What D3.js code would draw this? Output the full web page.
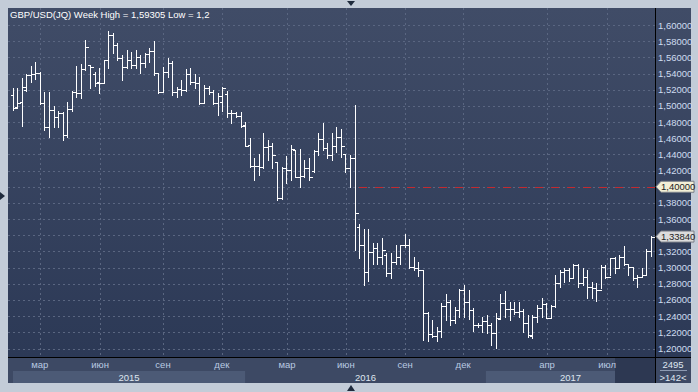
<!DOCTYPE html>
<html>
<head>
<meta charset="utf-8">
<script src="https://cdn.jsdelivr.net/npm/d3@7"></script>
<style>
  body { margin: 0; background: #c3ccd8; }
  svg { display: block; font-family: "Liberation Sans", Arial, sans-serif; }
</style>
</head>
<body>
<div id="chart"></div>
<script>
// weekly GBP/USD bars, Jan 2015 - Sep 2017
const openP = [
  1.514,1.498,1.505,1.520,1.538,1.540,1.541,1.503,1.474,1.495,1.486,1.491,1.464,1.496,1.517,1.516,1.545,1.550,1.540,1.530,
  1.528,1.557,1.588,1.575,1.559,1.548,1.557,1.550,1.560,1.553,1.564,1.568,1.541,1.517,1.542,1.553,1.517,1.521,1.520,1.540,
  1.530,1.528,1.504,1.522,1.517,1.503,1.505,1.515,1.491,1.491,1.487,1.476,1.452,1.426,1.426,1.424,1.449,1.450,1.430,1.386,
  1.423,1.421,1.445,1.412,1.413,1.423,1.420,1.444,1.459,1.448,1.439,1.450,1.461,1.440,1.423,1.435,1.350,1.328,1.294,1.319,
  1.324,1.313,1.315,1.293,1.307,1.313,1.328,1.328,1.301,1.300,1.297,1.244,1.218,1.215,1.222,1.252,1.258,1.235,1.247,1.272,
  1.258,1.248,1.229,1.229,1.234,1.229,1.219,1.237,1.256,1.2485,1.2485,1.2448,1.246,1.231,1.216,1.2386,1.2498,1.2547,1.2374,1.2522,
  1.2807,1.2943,1.2968,1.2869,1.3030,1.2807,1.2881,1.2757,1.2745,1.2720,1.3005,1.2881,1.3116,1.2993,1.3129,1.3042,1.3005,1.2869,1.2881,1.2906,
  1.3203
];
const highP = [
  1.522,1.522,1.534,1.540,1.549,1.554,1.542,1.517,1.517,1.500,1.494,1.492,1.505,1.518,1.549,1.552,1.581,1.550,1.542,1.547,
  1.557,1.592,1.590,1.578,1.563,1.569,1.567,1.569,1.563,1.565,1.572,1.580,1.541,1.548,1.559,1.555,1.523,1.532,1.545,1.547,
  1.540,1.536,1.526,1.525,1.520,1.516,1.523,1.519,1.495,1.492,1.492,1.480,1.460,1.435,1.441,1.466,1.458,1.454,1.430,1.424,
  1.438,1.452,1.446,1.447,1.433,1.435,1.445,1.466,1.479,1.454,1.466,1.474,1.472,1.441,1.439,1.501,1.354,1.348,1.348,1.330,
  1.331,1.337,1.318,1.318,1.328,1.328,1.342,1.336,1.313,1.307,1.297,1.245,1.235,1.226,1.256,1.267,1.260,1.251,1.273,1.278,
  1.272,1.250,1.231,1.239,1.241,1.2312,1.2436,1.2671,1.2708,1.2572,1.2572,1.2572,1.2485,1.2411,1.2411,1.2535,1.2621,1.2559,1.2535,1.2906,
  1.2968,1.2993,1.2993,1.3042,1.3042,1.2993,1.2968,1.2819,1.2807,1.3030,1.3030,1.3116,1.3129,1.3153,1.3265,1.3042,1.3005,1.2906,1.2993,1.3228,
  1.3389
];
const lowP = [
  1.495,1.497,1.475,1.518,1.529,1.533,1.502,1.470,1.461,1.474,1.474,1.458,1.462,1.494,1.511,1.510,1.544,1.522,1.525,1.516,
  1.528,1.547,1.565,1.557,1.532,1.547,1.547,1.547,1.541,1.548,1.554,1.538,1.516,1.517,1.536,1.513,1.511,1.513,1.518,1.527,
  1.522,1.502,1.503,1.515,1.502,1.489,1.494,1.486,1.479,1.486,1.474,1.451,1.425,1.408,1.414,1.423,1.433,1.423,1.383,1.385,
  1.405,1.408,1.412,1.400,1.412,1.408,1.418,1.439,1.446,1.436,1.433,1.443,1.437,1.418,1.400,1.322,1.312,1.279,1.283,1.305,
  1.305,1.305,1.290,1.287,1.305,1.304,1.325,1.300,1.297,1.290,1.210,1.209,1.214,1.209,1.214,1.235,1.229,1.231,1.239,1.239,
  1.237,1.222,1.226,1.221,1.219,1.2040,1.2002,1.2374,1.2386,1.2349,1.2423,1.2386,1.2200,1.2139,1.2126,1.2324,1.2386,1.2374,1.2374,1.2510,
  1.2757,1.2819,1.2832,1.2869,1.2757,1.2782,1.2621,1.2621,1.2584,1.2745,1.2869,1.2906,1.2931,1.2993,1.3030,1.2906,1.2844,1.2757,1.2881,1.2906,
  1.3141
];
const closeP = [
  1.497,1.503,1.523,1.538,1.540,1.541,1.503,1.474,1.495,1.486,1.491,1.464,1.496,1.517,1.516,1.545,1.573,1.548,1.528,1.528,
  1.557,1.588,1.575,1.559,1.548,1.557,1.550,1.560,1.553,1.564,1.568,1.541,1.517,1.542,1.553,1.517,1.521,1.520,1.540,1.530,
  1.528,1.504,1.522,1.517,1.503,1.512,1.522,1.491,1.491,1.487,1.475,1.451,1.426,1.426,1.424,1.449,1.450,1.439,1.386,1.423,
  1.421,1.447,1.412,1.413,1.423,1.412,1.444,1.459,1.448,1.439,1.450,1.461,1.451,1.423,1.435,1.367,1.328,1.294,1.319,1.324,
  1.313,1.322,1.293,1.307,1.313,1.328,1.328,1.301,1.300,1.297,1.244,1.218,1.215,1.222,1.252,1.258,1.235,1.247,1.272,1.258,
  1.248,1.229,1.229,1.234,1.229,1.2188,1.2374,1.2559,1.2485,1.2485,1.2448,1.2460,1.2312,1.2163,1.2386,1.2498,1.2547,1.2374,1.2522,1.2807,
  1.2943,1.2968,1.2869,1.3030,1.2807,1.2881,1.2757,1.2745,1.2720,1.3005,1.2881,1.3116,1.2993,1.3129,1.3042,1.3005,1.2869,1.2881,1.2906,1.3203,
  1.3384
];

// axis labels
const priceTicks = [1.20,1.22,1.24,1.26,1.28,1.30,1.32,1.34,1.36,1.38,1.40,1.42,1.44,1.46,1.48,1.50,1.52,1.54,1.56,1.58,1.60];
const monthLabels = ["мар","июн","сен","дек","мар","июн","сен","дек","апр","июл"];
const monthBar = [6.0, 19.2, 33.0, 45.9, 60.2, 73.1, 86.1, 98.8, 117.2, 130.4]; // position in bar units
const yearLabels = ["2015","2016","2017"];
const yearFrom = [0.1, 51, 103.8];
const yearTo = [51, 103.8, 140.9];
const titleText = "GBP/USD(JQ) Week High = 1,59305 Low = 1,2";
const alertPrice = 1.40, alertFromBar = 76;
const lastPrice = 1.3384;
const footTop = "2495", footBottom = ">142<";

const W = 698, H = 392;
const plot = { left: 8, right: 655, top: 8, bottom: 357 };
const frameRight = 691, frameBottom = 383;

const svg = d3.select("#chart").append("svg")
  .attr("width", W).attr("height", H);

svg.append("rect").attr("width", W).attr("height", H).attr("fill", "#c3ccd8");

const defs = svg.append("defs");
const grad = defs.append("linearGradient").attr("id", "bg")
  .attr("x1", 0).attr("y1", 0).attr("x2", 0).attr("y2", 1);
grad.append("stop").attr("offset", "0%").attr("stop-color", "#404c67");
grad.append("stop").attr("offset", "100%").attr("stop-color", "#2c3956");

// scales
const x = d3.scaleLinear().domain([0, 140]).range([12.5, 651]);
const y = d3.scaleLinear().domain([1.20, 1.60]).range([348.5, 25]);

const ru = d3.formatLocale({ decimal: ",", thousands: " ", grouping: [3], currency: ["", ""] });
const fmt = ru.format(".5f");

// frame
svg.append("rect").attr("x", plot.left).attr("y", plot.top)
  .attr("width", frameRight - plot.left).attr("height", plot.bottom - plot.top)
  .attr("fill", "url(#bg)");
svg.append("rect").attr("x", plot.left).attr("y", plot.bottom)
  .attr("width", frameRight - plot.left).attr("height", frameBottom - plot.bottom)
  .attr("fill", "#3d4964");

// year bands
const bands = svg.append("g");
yearLabels.forEach((yl, i) => {
  const x0 = Math.max(plot.left + 5, x(yearFrom[i])), x1 = Math.min(plot.right, x(yearTo[i]));
  if (i % 2 === 0) {
    bands.append("rect").attr("x", x0).attr("y", 371).attr("width", x1 - x0).attr("height", 12)
      .attr("fill", "#4c5a76");
  }
  bands.append("text").attr("x", (x0 + x1) / 2).attr("y", 381)
    .attr("text-anchor", "middle").attr("fill", "#dfe6f0").attr("font-size", 9.5).text(yl);
});
// dark end box
svg.append("rect").attr("x", 615).attr("y", plot.bottom + 1)
  .attr("width", plot.right - 615).attr("height", frameBottom - plot.bottom - 1)
  .attr("fill", "#2d3852");

// grid
const grid = svg.append("g").attr("stroke", "#5a6681").attr("stroke-dasharray", "2,3")
  .attr("shape-rendering", "crispEdges");
grid.selectAll(".hg").data(priceTicks).join("line")
  .attr("x1", plot.left).attr("x2", plot.right)
  .attr("y1", d => Math.round(y(d)) + 0.5).attr("y2", d => Math.round(y(d)) + 0.5);
grid.selectAll(".vg").data(monthBar).join("line")
  .attr("y1", plot.top).attr("y2", plot.bottom)
  .attr("x1", d => Math.round(x(d)) + 0.5).attr("x2", d => Math.round(x(d)) + 0.5);

// month labels
svg.append("g").selectAll("text").data(monthLabels).join("text")
  .attr("x", (d, i) => x(monthBar[i])).attr("y", 368)
  .attr("text-anchor", "middle").attr("fill", "#b9c9e2").attr("font-size", 9.5)
  .text(d => d);

// alert line
svg.append("line")
  .attr("x1", x(alertFromBar)).attr("x2", plot.right)
  .attr("y1", Math.round(y(alertPrice)) + 0.5).attr("y2", Math.round(y(alertPrice)) + 0.5)
  .attr("stroke", "#c42a30").attr("stroke-width", 1.2).attr("stroke-dasharray", "8,8");

// OHLC bars
const bars = svg.append("g").attr("stroke", "#ffffff").attr("shape-rendering", "crispEdges");
const idx = d3.range(openP.length);
const bx = i => Math.round(x(i)) + 0.5;
bars.selectAll(".hl").data(idx).join("line")
  .attr("x1", bx).attr("x2", bx)
  .attr("y1", i => Math.round(y(highP[i]))).attr("y2", i => Math.round(y(lowP[i])) + 1);
bars.selectAll(".o").data(idx).join("line")
  .attr("x1", i => bx(i) - 3).attr("x2", bx)
  .attr("y1", i => Math.round(y(openP[i])) + 0.5).attr("y2", i => Math.round(y(openP[i])) + 0.5);
bars.selectAll(".c").data(idx).join("line")
  .attr("x1", bx).attr("x2", i => bx(i) + 3)
  .attr("y1", i => Math.round(y(closeP[i])) + 0.5).attr("y2", i => Math.round(y(closeP[i])) + 0.5);

// separators
svg.append("line").attr("x1", plot.right + 0.5).attr("x2", plot.right + 0.5)
  .attr("y1", plot.top).attr("y2", frameBottom).attr("stroke", "#000");
svg.append("line").attr("x1", plot.left).attr("x2", frameRight)
  .attr("y1", plot.bottom + 0.5).attr("y2", plot.bottom + 0.5).attr("stroke", "#000");

// price axis (labels hidden where a marker sits)
const markerPrices = [alertPrice, lastPrice];
const shownTicks = priceTicks.filter(t => markerPrices.every(m => Math.abs(y(t) - y(m)) > 8));
svg.append("g").selectAll("text").data(shownTicks).join("text")
  .attr("x", 658).attr("y", d => y(d) + 3.5)
  .attr("fill", "#cfdcf0").attr("font-size", 9.5)
  .text(d => fmt(d));

// price markers
function marker(v, fill) {
  const yy = y(v);
  const g = svg.append("g");
  g.append("path")
    .attr("d", `M656,${yy} L661,${yy - 5.5} L694,${yy - 5.5} L694,${yy + 5.5} L661,${yy + 5.5} Z`)
    .attr("fill", fill).attr("stroke", "#7a7f88");
  g.append("text").attr("x", 661).attr("y", yy + 3.5)
    .attr("fill", "#1c1c1c").attr("font-size", 9.5).text(fmt(v));
}
marker(alertPrice, "#f3efd6");
marker(lastPrice, "#dcdcdc");

// title
svg.append("text").attr("x", 10).attr("y", 18)
  .attr("fill", "#ffffff").attr("font-size", 9.5).text(titleText);

// footer cell
svg.append("text").attr("x", 673).attr("y", 368).attr("text-anchor", "middle")
  .attr("fill", "#dfe6f0").attr("font-size", 9.5).text(footTop);
svg.append("line").attr("x1", 660).attr("x2", 687).attr("y1", 370.5).attr("y2", 370.5)
  .attr("stroke", "#8d9ab2");
svg.append("text").attr("x", 673).attr("y", 381).attr("text-anchor", "middle")
  .attr("fill", "#dfe6f0").attr("font-size", 9.5).text(footBottom);

// small position markers on the outer border
const tri = svg.append("g").attr("fill", "#1f2b3d");
tri.append("path").attr("d", "M347,1 L355,1 L351,6 Z");
tri.append("path").attr("d", "M347,391 L355,391 L351,385 Z");
tri.append("path").attr("d", "M0,192 L0,200 L5,196 Z");
</script>
</body>
</html>
